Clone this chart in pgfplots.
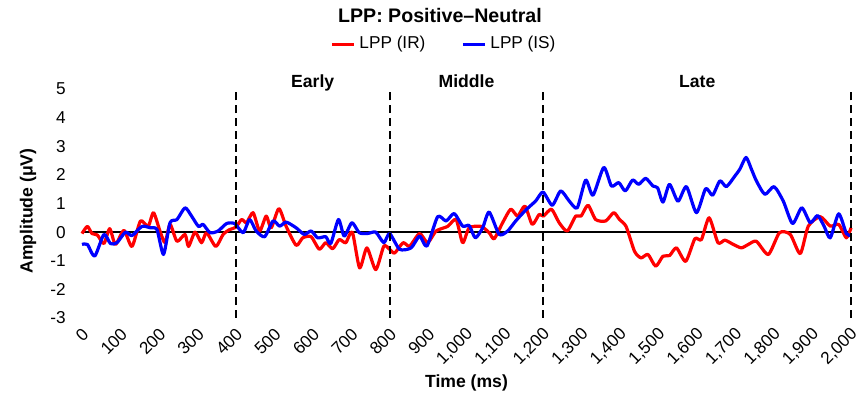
\documentclass[border=0pt]{standalone}
\usepackage{pgfplots}
\pgfplotsset{compat=1.18}
\usepackage{fontspec}
\setmainfont{Liberation Sans}
\begin{document}
\begin{tikzpicture}
\useasboundingbox (-41pt,-41.5pt) rectangle (390.5pt,159pt);
\begin{axis}[
 scale only axis, width=384.5pt, height=114.5pt,
 xmin=0, xmax=2000, ymin=-3, ymax=5,
 clip=false,
 axis line style={draw=none}, tick style={draw=none},
 xtick={0,100,...,2000}, ytick={-3,-2,...,5},
 scaled x ticks=false,
 /pgf/number format/assume math mode=true,
 xticklabel style={rotate=45, anchor=east, yshift=-6pt, font=\fontsize{8.6}{10}\selectfont, /pgf/number format/1000 sep={,}},
 yticklabel style={font=\fontsize{8.6}{10}\selectfont, xshift=-4.6pt},
 xlabel={\textbf{Time (ms)}},
 ylabel={\textbf{Amplitude (μV)}},
 xlabel style={at={(axis description cs:0.5,-0.2838)}, anchor=center, font=\fontsize{8.8}{10}\selectfont},
 ylabel style={at={(axis description cs:-0.0702,0.467)}, anchor=center, font=\fontsize{8.8}{10}\selectfont},
 legend columns=2,
 legend style={draw=none, fill=none, at={(axis description cs:0.472,1.1965)}, anchor=center, font=\fontsize{8.6}{10}\selectfont, /tikz/every even column/.append style={column sep=16pt}, inner sep=0pt},
 legend image code/.code={\draw[#1, line width=1.5pt] (0pt,0pt) -- (11pt,0pt);},
]
\addplot[black, line width=0.7pt, forget plot] coordinates {(0,0) (2000,0)};
\addplot[red, line width=1.6pt, smooth, tension=0.4, line join=round] coordinates {
(0,-0.05) (14,0.2) (26,-0.05) (40,-0.1) (57,-0.4) (72,0.12) (87,-0.43) (109,0.06) (130,-0.5) (152,0.39) (172,0.2) (186,0.68) (203,0.03) (216,-0.37) (229,0.27) (247,-0.32) (268,-0.08) (277,-0.5) (294,0) (311,-0.37) (324,-0.02) (348,-0.5) (367,-0.08) (384,0.09) (400,0.17) (415,0.44) (428,0.33) (445,0.68) (462,0.04) (479,0.56) (492,0.15) (512,0.82) (531,0.2) (557,-0.46) (574,-0.2) (596,-0.16) (617,-0.6) (634,-0.37) (652,-0.58) (669,-0.26) (686,-0.37) (703,0) (722,-1.25) (741,-0.55) (764,-1.31) (785,-0.49) (800,-0.6) (813,-0.73) (835,-0.37) (852,-0.49) (878,-0.05) (899,-0.37) (921,0.04) (951,0.2) (973,0.44) (990,-0.37) (1007,0.15) (1038,0.2) (1059,-0.02) (1072,-0.23) (1094,0.33) (1115,0.8) (1133,0.56) (1152,0.91) (1171,0.27) (1189,0.62) (1200,0.56) (1221,0.8) (1241,0.33) (1262,0.04) (1284,0.56) (1298,0.56) (1316,0.94) (1336,0.44) (1362,0.39) (1383,0.68) (1398,0.44) (1415,0.2) (1437,-0.67) (1454,-0.9) (1472,-0.78) (1492,-1.19) (1511,-0.84) (1528,-0.82) (1546,-0.55) (1570,-1.02) (1594,-0.23) (1611,-0.26) (1631,0.5) (1654,-0.37) (1672,-0.28) (1694,-0.43) (1715,-0.55) (1733,-0.43) (1754,-0.32) (1785,-0.78) (1814,-0.02) (1842,-0.08) (1868,-0.75) (1889,0.21) (1920,0.54) (1946,0.21) (1968,0.27) (1988,-0.2) (2000,0.15)
};
\addlegendentry{LPP (IR)}
\addplot[blue, line width=1.6pt, smooth, tension=0.4, line join=round] coordinates {
(0,-0.43) (14,-0.43) (33,-0.84) (57,-0.08) (74,-0.4) (91,-0.37) (113,0) (130,-0.12) (156,0.2) (178,0.15) (195,0.09) (212,-0.78) (229,0.33) (247,0.44) (268,0.85) (285,0.56) (303,0.2) (315,0.27) (333,-0.02) (354,0.04) (376,0.3) (397,0.3) (419,-0.02) (436,0.44) (453,0.04) (475,-0.16) (497,0.39) (514,0.21) (531,0.35) (557,0.15) (578,-0.08) (596,0.04) (613,-0.2) (634,-0.16) (647,-0.4) (667,0.44) (682,-0.14) (702,0.33) (721,-0.02) (742,-0.05) (764,0) (785,-0.37) (800,-0.05) (826,-0.6) (856,-0.55) (878,-0.14) (897,-0.49) (925,0.54) (947,0.39) (968,0.65) (990,0.21) (1007,0.23) (1023,-0.2) (1042,0.15) (1059,0.7) (1085,-0.08) (1107,0.04) (1128,0.39) (1154,0.77) (1180,1.09) (1199,1.4) (1223,0.94) (1245,1.44) (1267,1.09) (1288,0.85) (1310,1.82) (1329,1.29) (1357,2.26) (1377,1.61) (1396,1.73) (1413,1.44) (1432,1.82) (1448,1.67) (1466,1.88) (1485,1.61) (1497,1.55) (1511,1.05) (1528,1.67) (1550,1.08) (1572,1.59) (1598,0.68) (1622,1.52) (1640,1.29) (1659,1.79) (1676,1.59) (1698,1.96) (1711,2.2) (1727,2.61) (1741,2.2) (1754,1.79) (1776,1.32) (1800,1.59) (1824,1.08) (1848,0.3) (1872,0.85) (1894,0.33) (1913,0.58) (1930,0.21) (1946,-0.2) (1968,0.64) (1988,-0.05) (2000,-0.12)
};
\addlegendentry{LPP (IS)}
\addplot[black, line width=1pt, dash pattern=on 4pt off 2.4pt, forget plot] coordinates {(400,-3) (400,5)};
\addplot[black, line width=1pt, dash pattern=on 4pt off 2.4pt, forget plot] coordinates {(800,-3) (800,5)};
\addplot[black, line width=1pt, dash pattern=on 4pt off 2.4pt, forget plot] coordinates {(1200,-3) (1200,5)};
\addplot[black, line width=1pt, dash pattern=on 4pt off 2.4pt, forget plot] coordinates {(2000,-3) (2000,5)};
\node[anchor=base, font=\fontsize{8.8}{10}\selectfont\bfseries] at (axis cs:600,5) [yshift=0.8pt] {Early};
\node[anchor=base, font=\fontsize{8.8}{10}\selectfont\bfseries] at (axis cs:1000,5) [yshift=0.8pt] {Middle};
\node[anchor=base, font=\fontsize{8.8}{10}\selectfont\bfseries] at (axis cs:1600,5) [yshift=0.8pt] {Late};
\end{axis}
\node[font=\fontsize{9.8}{11}\selectfont\bfseries] at (179pt,151.5pt) {LPP: Positive–Neutral};
\end{tikzpicture}
\end{document}
